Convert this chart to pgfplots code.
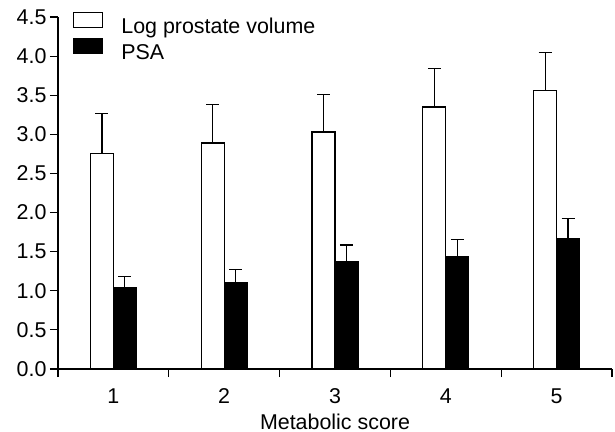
\documentclass[border=0pt]{standalone}
\usepackage{fontspec}
\setmainfont{Liberation Sans}
\usepackage{pgfplots}
\pgfplotsset{compat=1.18}
\begin{document}
\begin{tikzpicture}
\path[use as bounding box] (-58bp,-63bp) rectangle (557bp,369bp);
\begin{axis}[
  at={(0,0)}, anchor=south west,
  width=554bp, height=352bp, scale only axis,
  xmin=0.5, xmax=5.5, ymin=0, ymax=4.5,
  axis x line=bottom, axis y line=left,
  axis line style={-, line width=1.2bp},
  ybar=0pt, bar width=0.207,
  xtick={1,...,5}, minor xtick={0.5,1.5,...,5.5},
  major x tick style={draw=none},
  ytick={0,0.5,...,4.5},
  tick align=outside, major tick length=8bp, minor tick length=8bp,
  tick style={line width=1.2bp, black},
  yticklabel style={/pgf/number format/fixed, /pgf/number format/fixed zerofill, /pgf/number format/precision=1},
  /pgf/number format/assume math mode=true,
  tick label style={font=\fontsize{21.5}{25}\selectfont},
  xticklabel style={yshift=-8bp},
  label style={font=\fontsize{21.5}{25}\selectfont},
  xlabel={Metabolic score},
  xlabel style={yshift=-3bp},
  legend style={draw=none, fill=none, at={(rel axis cs:0.027,1.016)}, anchor=north west,
    inner sep=0pt, row sep=3bp, column sep=18bp, font=\fontsize{21.5}{25}\selectfont,
    nodes={inner sep=0pt}},
  legend cell align=left,
]
\addplot[fill=white, draw=black, line width=1.2bp,
  legend image code/.code={\draw[line width=1.2bp, draw=black, fill=white] (0bp,-1bp) rectangle (29bp,14bp);},
  error bars/.cd, y dir=plus, y explicit,
  error bar style={line width=1.2bp, black},
  error mark options={rotate=90, mark size=6.5bp, line width=1.2bp, black}]
coordinates {
  (1,2.76) +- (0,0.51)
  (2,2.89) +- (0,0.49)
  (3,3.03) +- (0,0.48)
  (4,3.35) +- (0,0.49)
  (5,3.56) +- (0,0.49)
};
\addlegendentry{Log prostate volume}
\addplot[fill=black, draw=black, line width=1.2bp,
  legend image code/.code={\draw[line width=1.2bp, draw=black, fill=black] (0bp,-1bp) rectangle (29bp,14bp);},
  error bars/.cd, y dir=plus, y explicit,
  error bar style={line width=1.2bp, black},
  error mark options={rotate=90, mark size=6.5bp, line width=1.2bp, black}]
coordinates {
  (1,1.045) +- (0,0.14)
  (2,1.11) +- (0,0.16)
  (3,1.37) +- (0,0.215)
  (4,1.44) +- (0,0.22)
  (5,1.67) +- (0,0.25)
};
\addlegendentry{PSA}
\end{axis}
\end{tikzpicture}
\end{document}
